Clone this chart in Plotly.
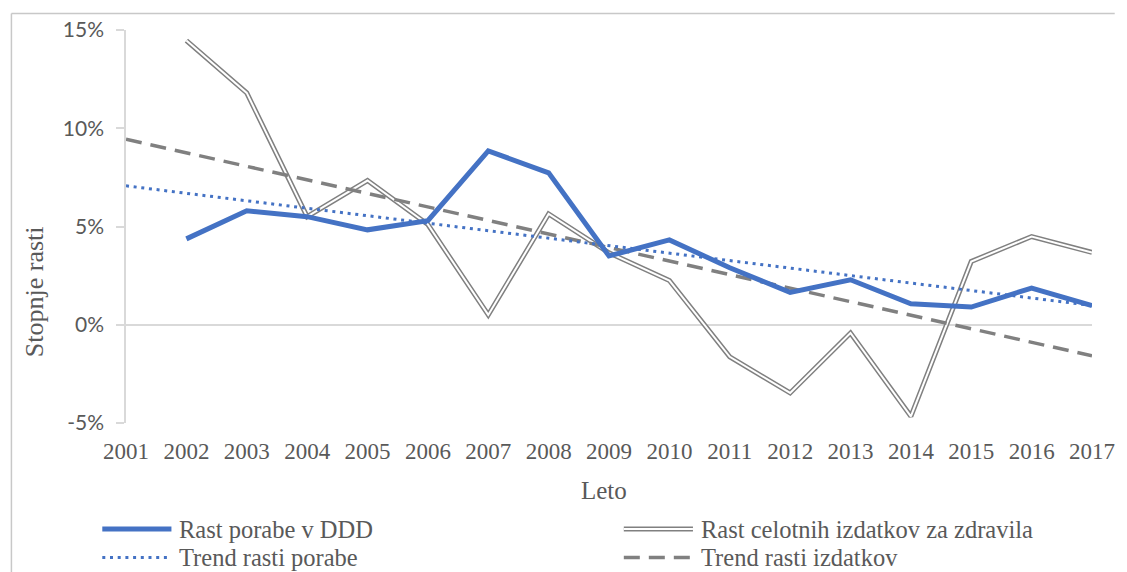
import plotly.graph_objects as go

# Years on the category axis
years = list(range(2001, 2018))
years_data = list(range(2002, 2018))

# Growth of consumption in DDD (share)
rast_porabe = [0.0437, 0.058, 0.055, 0.0483, 0.053, 0.0885, 0.0773, 0.035,
               0.0432, 0.029, 0.0165, 0.0229, 0.0107, 0.009, 0.0187, 0.0097]

# Growth of total expenditure on medicines (share)
rast_izdatkov = [0.1446, 0.118, 0.055, 0.0734, 0.051, 0.005, 0.0564, 0.0366,
                 0.0225, -0.0163, -0.0347, -0.0042, -0.0466, 0.0322, 0.0449, 0.0368]

# Linear trend lines, start (2001) and end (2017) values
trend_years = [2001, 2017]
trend_porabe = [0.0707, 0.0098]
trend_izdatkov = [0.0944, -0.0158]

legend_labels = ["Rast porabe v DDD", "Rast celotnih izdatkov za zdravila",
                 "Trend rasti porabe", "Trend rasti izdatkov"]

BLUE = "#4472C4"
GRAY = "#808080"
TXT = "#595959"
SERIF = "Liberation Serif"
SANS = "Lato"

# plot area in pixels
PX_L, PX_R, PX_T, PX_B = 126, 1104, 30, 423


def px2x(p):
    return (p - PX_L) / (PX_R - PX_L)


def py2y(p):
    return (PX_B - p) / (PX_B - PX_T)


fig = go.Figure()

# double line: thick gray with a thin white core
fig.add_trace(go.Scatter(x=years_data, y=rast_izdatkov, mode="lines",
                         line=dict(color=GRAY, width=5), showlegend=False,
                         hoverinfo="skip"))
fig.add_trace(go.Scatter(x=years_data, y=rast_izdatkov, mode="lines",
                         line=dict(color="white", width=2), showlegend=False,
                         name=legend_labels[1]))
fig.add_trace(go.Scatter(x=trend_years, y=trend_izdatkov, mode="lines",
                         line=dict(color=GRAY, width=3.5, dash="16px,9px"),
                         showlegend=False, name=legend_labels[3]))
fig.add_trace(go.Scatter(x=trend_years, y=trend_porabe, mode="lines",
                         line=dict(color=BLUE, width=3, dash="3px,4.7px"),
                         showlegend=False, name=legend_labels[2]))
fig.add_trace(go.Scatter(x=years_data, y=rast_porabe, mode="lines",
                         line=dict(color=BLUE, width=5), showlegend=False,
                         name=legend_labels[0]))

shapes = []
annotations = []

# chart frame (top and left edges)
shapes.append(dict(type="line", xref="paper", yref="paper",
                   x0=px2x(10), x1=px2x(1127), y0=py2y(13.5), y1=py2y(13.5),
                   line=dict(color="#c8c8c8", width=1.5)))
shapes.append(dict(type="line", xref="paper", yref="paper",
                   x0=px2x(10), x1=px2x(10), y0=py2y(13.5), y1=py2y(572),
                   line=dict(color="#c8c8c8", width=1.5)))

# legend entries drawn as shapes and text
legend_rows = [529, 557.5]
legend_cols = [(102, 172, 178), (630, 700, 706)]
styles = [
    [dict(color=BLUE, width=5)],
    [dict(color=GRAY, width=5), dict(color="white", width=2)],
    [dict(color=BLUE, width=3, dash="3px,4.7px")],
    [dict(color=GRAY, width=3.5, dash="16px,9px")],
]
for i, label in enumerate(legend_labels):
    row = legend_rows[i // 2]
    x0, x1, xt = legend_cols[i % 2]
    for st in styles[i]:
        shapes.append(dict(type="line", xref="paper", yref="paper",
                           x0=px2x(x0), x1=px2x(x1), y0=py2y(row), y1=py2y(row),
                           line=st))
    annotations.append(dict(text=label, xref="paper", yref="paper",
                            x=px2x(xt), y=py2y(row), xanchor="left",
                            yanchor="middle", showarrow=False,
                            font=dict(family=SERIF, size=24.5, color=TXT)))

# axis titles
annotations.append(dict(text="Stopnje rasti", xref="paper", yref="paper",
                        x=px2x(33), y=py2y(292), textangle=-90,
                        xanchor="center", yanchor="middle", showarrow=False,
                        font=dict(family=SERIF, size=26, color=TXT)))
annotations.append(dict(text="Leto", xref="paper", yref="paper",
                        x=px2x(610), y=py2y(490), xanchor="center",
                        yanchor="middle", showarrow=False,
                        font=dict(family=SERIF, size=25, color=TXT)))

fig.update_layout(
    width=1127, height=572,
    margin=dict(l=PX_L, r=1127 - PX_R, t=PX_T, b=572 - PX_B),
    paper_bgcolor="white", plot_bgcolor="white",
    shapes=shapes, annotations=annotations,
    showlegend=False,
    xaxis=dict(range=[2001, 2017], tickvals=years, ticktext=[str(y) for y in years],
               showgrid=False, zeroline=False, showline=False, ticks="",
               ticklabelstandoff=12,
               tickfont=dict(family=SERIF, size=23, color=TXT)),
    yaxis=dict(range=[-0.05, 0.15], tickvals=[-0.05, 0, 0.05, 0.10, 0.15],
               ticktext=["-5%", "0%", "5%", "10%", "15%"],
               showgrid=False, zeroline=True, zerolinecolor="#d9d9d9",
               zerolinewidth=1.5, showline=True, linecolor="#d9d9d9",
               linewidth=1.5, ticks="outside", ticklen=8, tickcolor="#d9d9d9",
               tickwidth=1.5, ticklabelstandoff=8,
               tickfont=dict(family=SANS, size=21, color=TXT)),
)

fig.write_html("out.html")
